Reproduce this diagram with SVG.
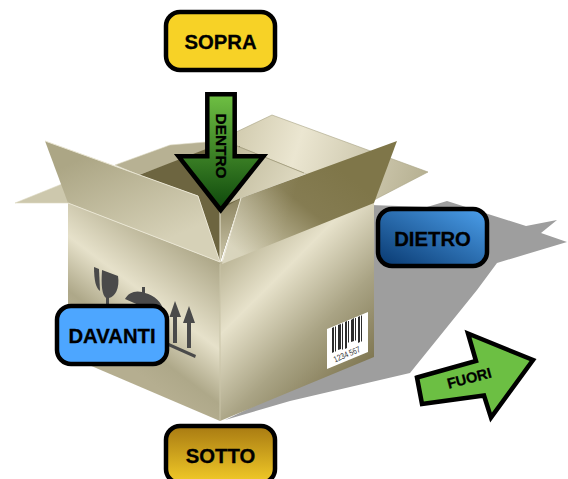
<svg xmlns="http://www.w3.org/2000/svg" width="568" height="479" viewBox="0 0 568 479">
<style>
.lb{stroke:#000;stroke-width:4.5}
.t{font-family:"Liberation Sans",Arial,sans-serif;font-weight:700;fill:#000;stroke:#000;stroke-width:.3;text-anchor:middle}
.big{font-size:20.3px}
.icon{fill:#4a4a4a}
.bar{fill:#2b2b2b}
.ln{fill:none;stroke:#e9e5d2;stroke-width:1}
</style>
<defs>
<linearGradient id="front" gradientUnits="userSpaceOnUse" x1="220" y1="265" x2="138.400" y2="373.800">
<stop offset="0" stop-color="#aea889"/><stop offset=".5" stop-color="#e6e1ca"/><stop offset=".82" stop-color="#aea889"/><stop offset="1" stop-color="#b5ae90"/>
</linearGradient>
<linearGradient id="right" gradientUnits="userSpaceOnUse" x1="230" y1="260" x2="360" y2="390">
<stop offset="0" stop-color="#bfb99b"/><stop offset=".25" stop-color="#e7e2cb"/><stop offset=".6" stop-color="#aaa485"/><stop offset="1" stop-color="#776e48"/>
</linearGradient>
<linearGradient id="flapL" gradientUnits="userSpaceOnUse" x1="100" y1="150" x2="145" y2="250">
<stop offset="0" stop-color="#aca685"/><stop offset="1" stop-color="#d6d1b7"/>
</linearGradient>
<linearGradient id="flapR" gradientUnits="userSpaceOnUse" x1="335" y1="165" x2="255" y2="265">
<stop offset="0" stop-color="#7f7649"/><stop offset=".4" stop-color="#857c52"/><stop offset="1" stop-color="#d4cfb4"/>
</linearGradient>
<linearGradient id="flapRo" gradientUnits="userSpaceOnUse" x1="241" y1="198" x2="290" y2="212">
<stop offset="0" stop-color="#fff" stop-opacity=".14"/><stop offset="1" stop-color="#fff" stop-opacity="0"/>
</linearGradient>
<linearGradient id="backR" gradientUnits="userSpaceOnUse" x1="240" y1="130" x2="430" y2="190">
<stop offset="0" stop-color="#d3cdb1"/><stop offset=".3" stop-color="#ebe6d1"/><stop offset="1" stop-color="#b3ad8e"/>
</linearGradient>
<linearGradient id="wall" gradientUnits="userSpaceOnUse" x1="235" y1="150" x2="300" y2="185">
<stop offset="0" stop-color="#c2bc9e"/><stop offset="1" stop-color="#e0dbc3"/>
</linearGradient>
<linearGradient id="wedge" gradientUnits="userSpaceOnUse" x1="225" y1="200" x2="230" y2="262">
<stop offset="0" stop-color="#8c8460"/><stop offset="1" stop-color="#cfc9ad"/>
</linearGradient>
<linearGradient id="gIn" x1="0" y1="0" x2="0" y2="1">
<stop offset="0" stop-color="#6fc043"/><stop offset="1" stop-color="#0d470b"/>
</linearGradient>
<linearGradient id="gDi" x1="0" y1="1" x2="1" y2="0">
<stop offset="0" stop-color="#08386f"/><stop offset="1" stop-color="#4ca0ec"/>
</linearGradient>
<linearGradient id="gSo" x1="0" y1="0" x2="0" y2="1">
<stop offset="0" stop-color="#a87a12"/><stop offset="1" stop-color="#f2cb28"/>
</linearGradient>
</defs>

<g id="box">
<polygon id="shadow" fill="#9e9e9e" points="370,205 427,207 447,201 526,226 557,220 541,233 567,242 497,263 477,290 410,373 290,401 225,420 370,350"/>
<polygon fill="#cdc8ad" stroke="#dedac5" stroke-width=".6" points="15,203 70,203 62,184"/>
<polygon fill="#b7b193" stroke="#dedac5" stroke-width=".6" points="115,165 170,145 206,142 210,150 139,175"/>
<polygon fill="url(#backR)" stroke="#a8a283" stroke-width=".6" points="272,115 428,172 374,200 306,174 237,146 232,134"/>
<polygon fill="#6d6540" points="139,175 206,149 240,146 240,200 220,262 198,196"/>
<polygon fill="url(#wall)" points="237,146 306,174 241,198 225,205"/>
<line x1="237" y1="146" x2="304" y2="173" stroke="#a8a283" stroke-width="1"/>
<polygon fill="url(#front)" points="68,203 220,262 220,421 68,356"/>
<polygon fill="url(#right)" points="220,262 374,200 374,357 220,421"/>
<line x1="220" y1="264" x2="220" y2="421" stroke="#c9c4a8" stroke-width="1"/>
<polygon fill="#6d6540" points="198,196 220,262 220,210"/>
<polygon fill="url(#wedge)" points="220,210 220,262 241,198"/>
<polygon fill="url(#flapL)" points="45,141 198,196 220,262 68,203"/>
<polygon fill="url(#flapR)" points="397,141 374,203 222,264 241,198"/>
<polygon fill="url(#flapRo)" points="397,141 374,203 222,264 241,198"/>
<path class="ln" d="M45,141 198,196 220,262 M68,203 220,262 M241,198 222,262 M220,212V262"/>
<g id="icons">
<path class="icon" d="M94,267 99,269 100,291C96,288 94,281 94,267Z"/>
<path class="icon" d="M102,270 118,276C120,288 115,297 109,298V306H106V298C102,295 101,285 102,270Z"/>
<path class="icon" d="M142,287h3v6C154,295 162,302 164,312L150,310 125,299C128,293 135,290 142,292Z"/>
<path class="icon" d="M175,301 181,317H177V343H173V317H169.500Z"/>
<path class="icon" d="M189,306 195,323H191V348H187V323H183Z"/>
<polygon class="icon" points="169,343 196,355 195,358 168,346"/>
</g>
<g id="barcode">
<polygon fill="#fff" points="327,329 368,312 368,352 327,369"/>
<g class="bar">
<polygon points="332,328 334,327 334,352 332,353"/>
<polygon points="335,327 336,326 336,351 335,352"/>
<polygon points="338,325 341,324 341,349 338,350"/>
<polygon points="342,324 343,323 343,349 342,350"/>
<polygon points="345,322 347,321 347,348 345,349"/>
<polygon points="348,321 349,321 349,342 348,343"/>
<polygon points="351,320 354,318 354,341 351,342"/>
<polygon points="355,318 356,318 356,340 355,341"/>
<polygon points="358,317 360,316 360,342 358,343"/>
<polygon points="361,316 362,315 362,341 361,342"/>
</g>
<text transform="translate(348,357) rotate(-23) scale(.8,1)" style="font-family:'Liberation Sans',sans-serif;font-size:8.500px;fill:#333;text-anchor:middle">1234 567</text>
</g>
</g>

<g id="dentro">
<path class="lb" fill="url(#gIn)" d="M207.300,94.300H234.700V156.300H263.500L220.700,210 178.500,156.300H207.300Z"/>
<text class="t" transform="translate(215.500,146) rotate(90)" font-size="15.400px">DENTRO</text>
</g>
<g id="fuori">
<path class="lb" fill="#6cbf43" d="M417,377.500 476,361 468,333.500 533,360 491,417.500 484,395.500 422,404Z"/>
<text class="t" transform="translate(470.500,383) rotate(-15)" font-size="14.500px">FUORI</text>
</g>
<g id="sopra">
<rect class="lb" x="166" y="12" width="109" height="58" rx="14" fill="#f7d226"/>
<text class="t big" x="220.500" y="49">SOPRA</text>
</g>
<g id="dietro">
<rect class="lb" x="378" y="209" width="109" height="57" rx="14" fill="url(#gDi)"/>
<text class="t big" x="432.500" y="246">DIETRO</text>
</g>
<g id="davanti">
<rect class="lb" x="57" y="306" width="110" height="58" rx="14" fill="#4da6ff"/>
<text class="t big" x="112" y="342.500">DAVANTI</text>
</g>
<g id="sotto">
<rect class="lb" x="166" y="426" width="109" height="57" rx="14" fill="url(#gSo)"/>
<text class="t big" x="220.500" y="463">SOTTO</text>
</g>
</svg>
